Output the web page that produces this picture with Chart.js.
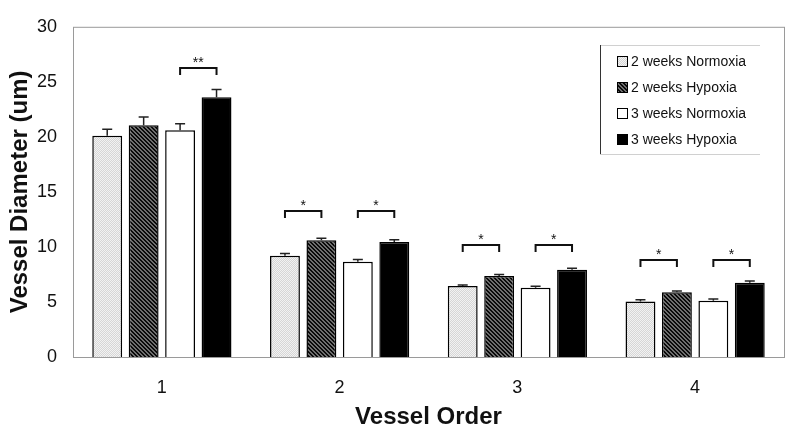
<!DOCTYPE html>
<html>
<head>
<meta charset="utf-8">
<script src="https://cdn.jsdelivr.net/npm/chart.js@4.4.0/dist/chart.umd.min.js"></script>
<style>
  html, body { margin: 0; padding: 0; background: #fff; }
  #wrap { width: 800px; height: 438px; position: relative; }
</style>
</head>
<body>
<div id="wrap"><canvas id="vesselChart"></canvas></div>
<script>
// Data
const vesselOrders = ['1', '2', '3', '4'];
const seriesLabels = ['2 weeks Normoxia', '2 weeks Hypoxia', '3 weeks Normoxia', '3 weeks Hypoxia'];

const normoxia2w = [20.1, 9.2, 6.45, 5.05];
const hypoxia2w = [21.05, 10.6, 7.35, 5.88];
const normoxia3w = [20.6, 8.65, 6.3, 5.1];
const hypoxia3w = [23.6, 10.45, 7.92, 6.75];

const normoxia2wErr = [0.6, 0.2, 0.1, 0.15];
const hypoxia2wErr = [0.75, 0.2, 0.15, 0.12];
const normoxia3wErr = [0.6, 0.2, 0.12, 0.18];
const hypoxia3wErr = [0.7, 0.2, 0.15, 0.15];

// significance brackets: group, from series, to series, level (um), mark
const sigGroup = [0, 1, 1, 2, 2, 3, 3];
const sigFrom  = [2, 0, 2, 0, 2, 0, 2];
const sigTo    = [3, 1, 3, 1, 3, 1, 3];
const sigLevel = [26.3, 13.3, 13.3, 10.2, 10.2, 8.8, 8.8];
const sigMark  = ['**', '*', '*', '*', '*', '*', '*'];

const FONT = "'Liberation Sans', Arial, sans-serif";

// fill patterns (stipple light gray, dark diagonal hatch)
function makePattern(size, draw) {
    const c = document.createElement('canvas');
    c.width = size; c.height = size;
    draw(c.getContext('2d'), size);
    return c.getContext('2d').createPattern(c, 'repeat');
}

const lightStipple = makePattern(4, (g, s) => {
    for (let x = 0; x < s; x++) {
        for (let y = 0; y < s; y++) {
            g.fillStyle = (x + y) % 2 ? '#d6d6d6' : '#f2f2f2';
            g.fillRect(x, y, 1, 1);
        }
    }
});

const darkHatch = makePattern(4, (g, s) => {
    g.fillStyle = '#6e6e6e';
    g.fillRect(0, 0, s, s);
    g.fillStyle = '#0a0a0a';
    for (let i = 0; i < s; i++) {
        g.fillRect(i, i, 1, 1);
        g.fillRect((i + 1) % s, i, 1, 1);
    }
});

const fills = [lightStipple, darkHatch, '#ffffff', '#000000'];
const values = [normoxia2w, hypoxia2w, normoxia3w, hypoxia3w];
const errors = [normoxia2wErr, hypoxia2wErr, normoxia3wErr, hypoxia3wErr];

// plot frame
const frameBox = {
    id: 'frameBox',
    beforeDatasetsDraw(chart) {
        const { ctx, chartArea: a } = chart;
        ctx.save();
        ctx.strokeStyle = '#9a9a9a';
        ctx.lineWidth = 1;
        ctx.strokeRect(a.left + 0.5, a.top + 0.5, a.right - a.left, a.bottom - a.top);
        ctx.restore();
    }
};

// error bars (upper only)
const errorBars = {
    id: 'errorBars',
    afterDatasetsDraw(chart) {
        const { ctx } = chart;
        const y = chart.scales.y;
        ctx.save();
        ctx.strokeStyle = '#222';
        ctx.lineWidth = 1.5;
        chart.data.datasets.forEach((ds, i) => {
            const meta = chart.getDatasetMeta(i);
            meta.data.forEach((bar, j) => {
                const top = y.getPixelForValue(ds.data[j]);
                const end = y.getPixelForValue(ds.data[j] + errors[i][j]);
                ctx.beginPath();
                ctx.moveTo(bar.x, top);
                ctx.lineTo(bar.x, end);
                ctx.moveTo(bar.x - 5, end);
                ctx.lineTo(bar.x + 5, end);
                ctx.stroke();
            });
        });
        ctx.restore();
    }
};

// significance brackets
const sigBrackets = {
    id: 'sigBrackets',
    afterDatasetsDraw(chart) {
        const { ctx } = chart;
        const y = chart.scales.y;
        ctx.save();
        ctx.strokeStyle = '#111';
        ctx.fillStyle = '#111';
        ctx.lineWidth = 2;
        ctx.font = '14px ' + FONT;
        ctx.textAlign = 'center';
        ctx.textBaseline = 'alphabetic';
        sigGroup.forEach((g, k) => {
            const x1 = chart.getDatasetMeta(sigFrom[k]).data[g].x;
            const x2 = chart.getDatasetMeta(sigTo[k]).data[g].x;
            const yy = Math.round(y.getPixelForValue(sigLevel[k]));
            ctx.beginPath();
            ctx.moveTo(x1, yy + 7);
            ctx.lineTo(x1, yy);
            ctx.lineTo(x2, yy);
            ctx.lineTo(x2, yy + 7);
            ctx.stroke();
            ctx.fillText(sigMark[k], (x1 + x2) / 2, yy - 1);
        });
        ctx.restore();
    }
};

// boxed legend inside the plot
const boxLegend = {
    id: 'boxLegend',
    afterDraw(chart) {
        const { ctx } = chart;
        const bx = 600, by = 45, bw = 160, bh = 109;
        ctx.save();
        ctx.strokeStyle = '#d0d0d0';
        ctx.lineWidth = 1;
        ctx.beginPath();
        ctx.moveTo(bx, by + 0.5); ctx.lineTo(bx + bw, by + 0.5);
        ctx.moveTo(bx, by + bh + 0.5); ctx.lineTo(bx + bw, by + bh + 0.5);
        ctx.stroke();
        ctx.strokeStyle = '#333';
        ctx.beginPath();
        ctx.moveTo(bx + 0.5, by); ctx.lineTo(bx + 0.5, by + bh);
        ctx.stroke();
        ctx.font = '14px ' + FONT;
        ctx.textBaseline = 'middle';
        ctx.textAlign = 'left';
        chart.data.datasets.forEach((ds, i) => {
            const cy = 61 + i * 26;
            ctx.fillStyle = ds.backgroundColor;
            ctx.fillRect(617, cy - 5, 11, 11);
            ctx.strokeStyle = '#000';
            ctx.lineWidth = 1;
            ctx.strokeRect(617.5, cy - 4.5, 10, 10);
            ctx.fillStyle = '#111';
            ctx.fillText(ds.label, 631, cy + 1);
        });
        ctx.restore();
    }
};

new Chart(document.getElementById('vesselChart'), {
    type: 'bar',
    data: {
        labels: vesselOrders,
        datasets: seriesLabels.map((label, i) => ({
            label: label,
            data: values[i],
            backgroundColor: fills[i],
            borderColor: '#000',
            borderWidth: 1.5,
            categoryPercentage: 0.82,
            barPercentage: 0.82
        }))
    },
    options: {
        responsive: true,
        maintainAspectRatio: false,
        animation: false,
        layout: { padding: { top: 20, right: 16, left: 0, bottom: 0 } },
        plugins: {
            legend: { display: false },
            tooltip: { enabled: false }
        },
        scales: {
            x: {
                grid: { display: false, drawTicks: false },
                border: { display: false },
                ticks: { color: '#111', font: { family: FONT, size: 18 }, padding: 20 },
                title: {
                    display: true,
                    text: 'Vessel Order',
                    color: '#111',
                    font: { family: FONT, size: 24, weight: 'bold' },
                    padding: { top: 0, bottom: 6 }
                },
                afterFit(scale) { scale.height = 81; }
            },
            y: {
                min: 0,
                max: 30,
                grid: { display: false, drawTicks: false },
                border: { display: false },
                ticks: { stepSize: 5, color: '#111', font: { family: FONT, size: 18 }, padding: 16 },
                title: {
                    display: true,
                    text: 'Vessel Diameter (um)',
                    color: '#111',
                    font: { family: FONT, size: 24, weight: 'bold' },
                    padding: { top: 6, bottom: 0 }
                },
                afterFit(scale) { scale.width = 73; }
            }
        }
    },
    plugins: [frameBox, errorBars, sigBrackets, boxLegend]
});
</script>
</body>
</html>
